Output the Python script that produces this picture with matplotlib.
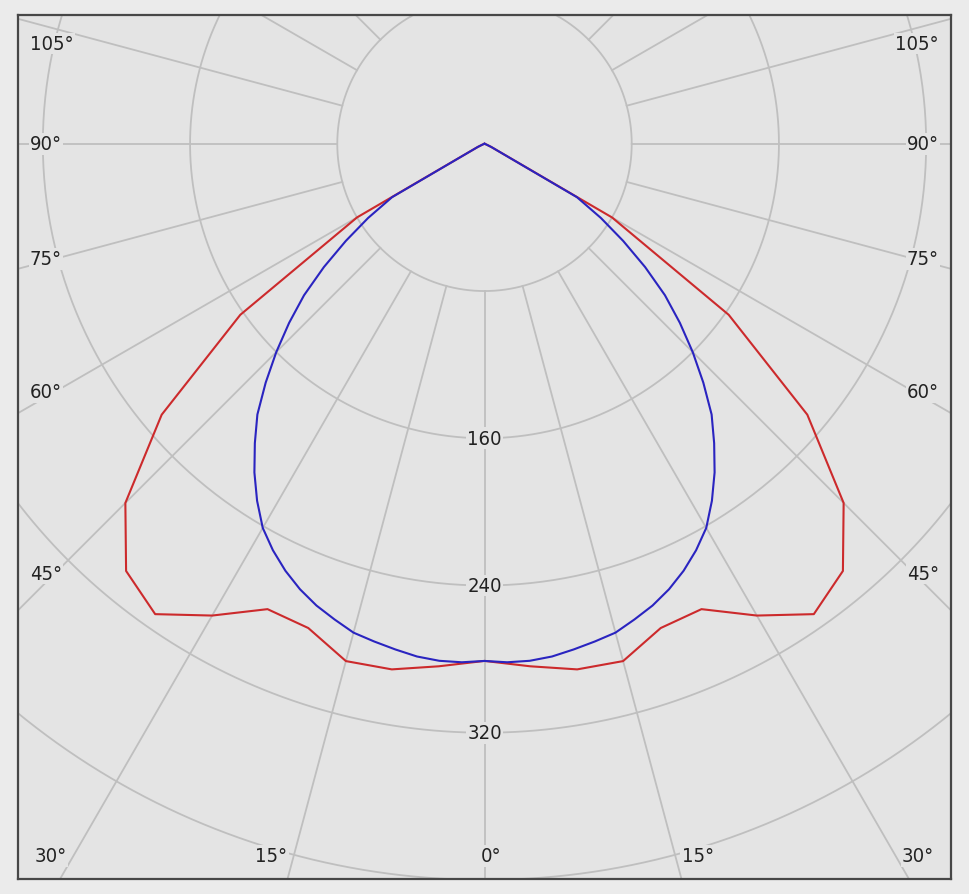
import numpy as np
import matplotlib.pyplot as plt
from matplotlib import font_manager

# ---------------------------------------------------------------------------
# Luminous intensity data (cd), symmetric planes
# ---------------------------------------------------------------------------
# red plane: polyline with 5 deg steps
gamma_red = [0, 5, 10, 15, 20, 25, 30, 35, 40, 45, 50, 55, 60, 65, 70, 75, 80, 85, 90]
red_cd = [281, 285, 290, 291, 280, 279, 296, 312, 303, 276, 229, 162, 80, 4, 1, 0, 0, 0, 0]

# blue plane: smoother curve, 2.5 deg steps up to 60 deg
gamma_blue = [0, 2.5, 5, 7.5, 10, 12.5, 15, 17.5, 20, 22.5, 25, 27.5, 30, 32.5, 35,
              37.5, 40, 42.5, 45, 47.5, 50, 52.5, 55, 57.5, 60, 65, 70, 75, 80, 85, 90]
blue_cd = [281, 282, 282, 281, 279, 277, 275, 271, 267, 262, 256, 249, 241, 230, 218,
           205, 192, 176, 160, 144, 128, 110, 92, 75, 58, 4, 1, 0, 0, 0, 0]

ring_values = [80, 160, 240, 320, 400, 480]
ring_labels = [160, 240, 320]
spoke_step = 15
angle_labels = [0, 15, 30, 45, 60, 75, 90, 105]

# font: narrow sans if available
names = {f.name for f in font_manager.fontManager.ttflist}
if 'Liberation Sans Narrow' in names:
    font_kw = dict(family='Liberation Sans Narrow', fontsize=17)
else:
    font_kw = dict(family='DejaVu Sans', fontstretch='condensed', fontsize=14.5)

bg = '#e4e4e4'
grid_col = '#bfbfbf'

fig = plt.figure(figsize=(9.69, 8.95), dpi=100)
fig.patch.set_facecolor('#ebebeb')
ax = fig.add_axes([18 / 969, 15 / 895, 933 / 969, 864 / 895])
ax.set_facecolor(bg)
xmax = 253.5
ybot, ytop = -399.5, 70.0
ax.set_xlim(-xmax, xmax)
ax.set_ylim(ybot, ytop)
ax.set_xticks([])
ax.set_yticks([])
for sp in ax.spines.values():
    sp.set_color('#474747')
    sp.set_linewidth(1.6)

# rings and spokes
t = np.linspace(0, 2 * np.pi, 721)
for r in ring_values:
    ax.plot(r * np.cos(t), r * np.sin(t), color=grid_col, lw=1.3, zorder=1)
for a in np.deg2rad(np.arange(0, 360, spoke_step)):
    ax.plot([80 * np.sin(a), 1000 * np.sin(a)], [-80 * np.cos(a), -1000 * np.cos(a)],
            color=grid_col, lw=1.3, zorder=1)

# curves (mirror the half plane to both sides)
for gam, vals, col in [(gamma_red, red_cd, '#cc2a2c'), (gamma_blue, blue_cd, '#2a24c0')]:
    g = np.deg2rad(np.array(gam, dtype=float))
    v = np.array(vals, dtype=float)
    g_full = np.concatenate([-g[::-1], g[1:]])
    v_full = np.concatenate([v[::-1], v[1:]])
    ax.plot(v_full * np.sin(g_full), -v_full * np.cos(g_full), color=col, lw=1.5, zorder=3)

box = dict(facecolor=bg, edgecolor='none', pad=1.0)

# ring value labels along the 0 deg spoke
for r in ring_labels:
    ax.text(0, -r, str(r), ha='center', va='center', color='#222222',
            bbox=box, zorder=4, **font_kw)

# angle labels where the spokes leave the frame
for a in angle_labels:
    ar = np.deg2rad(a)
    for side in ([1] if a == 0 else [-1, 1]):
        dx, dy = side * np.sin(ar), -np.cos(ar)
        yl = ybot + 12.5
        xb = yl / dy * dx if dy < 0 else 1e9
        if abs(xb) < xmax - 15:
            ha = 'center' if a == 0 else ('right' if side < 0 else 'left')
            ax.text(xb + side * 3.5, yl, f'{a}°', ha=ha, va='center', color='#222222',
                    bbox=box, zorder=4, **font_kw)
        else:
            xs = xmax - 20
            ys = min(xs * dy / abs(dx), ytop - 15.5)
            ax.text(side * (xmax - 6.5), ys, f'{a}°', ha='right' if side > 0 else 'left',
                    va='center', color='#222222', bbox=box, zorder=4, **font_kw)

fig.savefig('out.png', dpi=100, facecolor=fig.get_facecolor())
